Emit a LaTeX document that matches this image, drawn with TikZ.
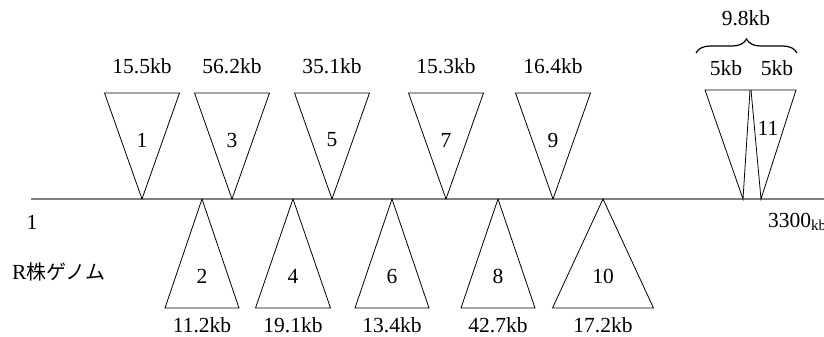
\documentclass[tikz,border=0pt]{standalone}
\usepackage{fontspec}
\setmainfont{Liberation Serif}
\newfontfamily\jpfont{Noto Sans CJK JP}
\usetikzlibrary{decorations.pathreplacing}

\begin{document}
\begin{tikzpicture}[x=1pt,y=-1pt,
  insert/.style={draw=black,line width=0.8pt,line join=miter},
  lbl/.style={inner sep=0pt,font=\fontsize{21.5}{24}\selectfont}]
  % canvas
  \useasboundingbox (0,0) rectangle (824,337);

  % genome axis
  \coordinate (gstart) at (31,199);
  \coordinate (gend) at (824,199);
  \draw[gray,line width=1.2pt] (gstart) -- (gend);
  \node[lbl] (pos1) at (32,222) {1};
  \node[lbl,anchor=west] (pos2) at (768,222) {3300\textsubscript{kb}};
  \node[lbl,anchor=west] (strain) at (12,272) {R{\jpfont\fontsize{20}{24}\selectfont 株ゲノム}};

  % insertions above the axis
  \foreach \ax/\n/\kb in {142/1/15.5, 232/3/56.2, 332/5/35.1, 446/7/15.3, 553/9/16.4}{
    \draw[insert] (\ax-37.5,93) -- (\ax+37.5,93) -- (\ax,199) -- cycle;
    \node[lbl] (in\n) at (\ax,140) {\n};
    \node[lbl] (kb\n) at (\ax,66) {\kb kb};
  }

  % insertions below the axis
  \foreach \ax/\hw/\n/\kb in {202/37/2/11.2, 293/37.5/4/19.1, 392/37/6/13.4, 498/37/8/42.7, 603/50.5/10/17.2}{
    \draw[insert] (\ax-\hw,308) -- (\ax+\hw,308) -- (\ax,199) -- cycle;
    \node[lbl] (in\n) at (\ax,276) {\n};
    \node[lbl] (kb\n) at (\ax,325) {\kb kb};
  }

  % double insertion 11
  \draw[insert] (705,90) -- (750,90) -- (743,199) -- cycle;
  \draw[insert] (751,90) -- (796,90) -- (761,199) -- cycle;
  \node[lbl] (in11) at (768,128) {11};
  \node[lbl] (kb11a) at (726,68) {5kb};
  \node[lbl] (kb11b) at (777,68) {5kb};
  \draw[decorate,decoration={brace,amplitude=14pt},line width=1.2pt] (696,53) -- (797,53);
  \node[lbl] (kb11) at (746,18) {9.8kb};
\end{tikzpicture}
\end{document}
